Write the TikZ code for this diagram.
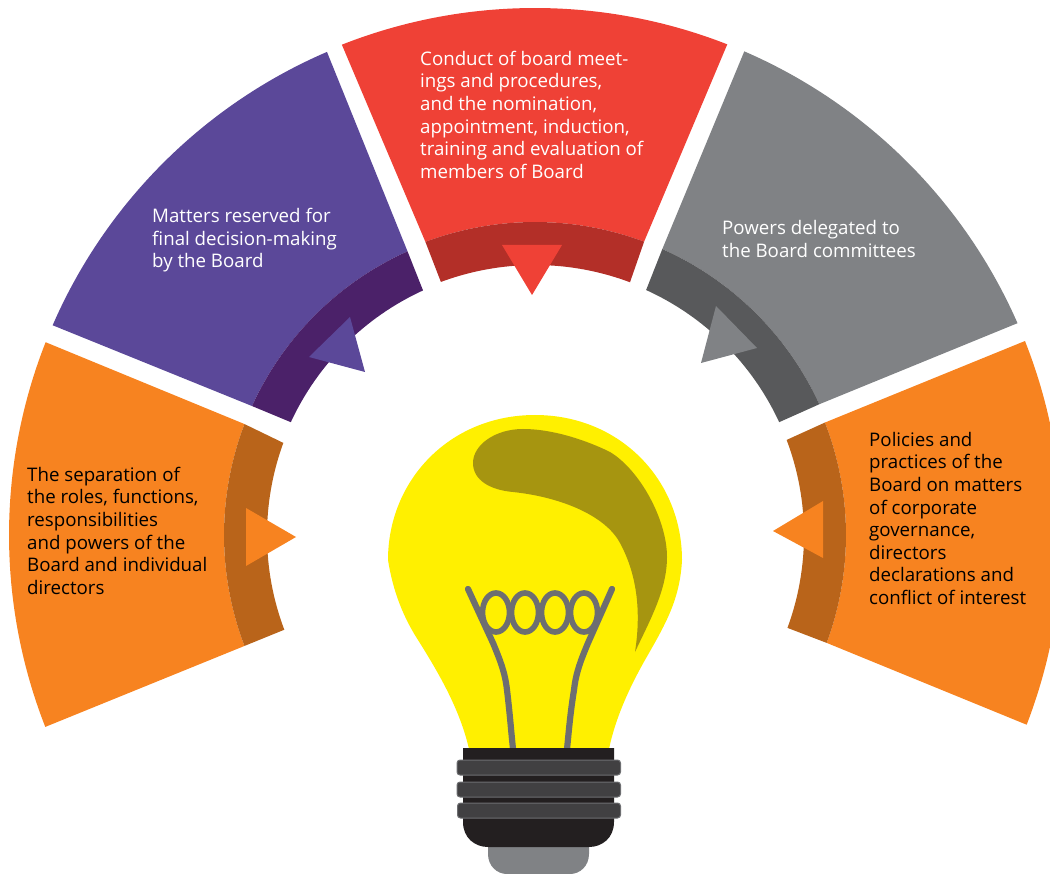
\documentclass[tikz,border=0pt]{standalone}
\usepackage{fontspec}
\setmainfont{Open Sans}
\definecolor{org}{HTML}{F78320}
\definecolor{orgd}{HTML}{B9641A}
\definecolor{pur}{HTML}{5B4899}
\definecolor{purd}{HTML}{4B2169}
\definecolor{redl}{HTML}{EF4136}
\definecolor{redd}{HTML}{B32F28}
\definecolor{gryl}{HTML}{808285}
\definecolor{gryd}{HTML}{58595B}
\definecolor{bulb}{HTML}{FFF000}
\definecolor{oliv}{HTML}{A69510}
\definecolor{wire}{HTML}{6D6E71}
\definecolor{sock}{HTML}{231F20}
\definecolor{ring}{HTML}{414042}
% fill; outer a1,a2,r1; inner a3,a4,r2
\newcommand\sectorband[7]{\fill[#1] (#2:#4pt) arc[start angle=#2,end angle=#3,radius=#4pt] -- (#6:#7pt) arc[start angle=#6,end angle=#5,radius=#7pt] -- cycle;}
\tikzset{
  lab/.style={anchor=north west,inner sep=0pt,align=left,font=\fontsize{18.7}{22.6}\selectfont},
  wirepath/.style={draw=wire,line width=6.2pt,line cap=round,line join=round},
  coil/.style={draw=wire,line width=5.6pt},
  ringbar/.style={fill=ring,draw=wire,line width=1pt,rounded corners=3pt}
}
\begin{document}
\begin{tikzpicture}[x=1pt,y=-1pt]
\useasboundingbox (0,0) rectangle (1050,874);
\clip (0,0) rectangle (1050,874);
\begin{scope}[shift={(535,535)},y=1pt]
 % left orange
 \sectorband{org}{158.5}{201.4}{526}{159.1}{200.9}{311}
 \sectorband{orgd}{159.1}{200.9}{311}{159.9}{200.7}{268}
 % purple
 \sectorband{pur}{156.5}{113.3}{526}{155.5}{114.2}{311}
 \sectorband{purd}{155.5}{114.2}{311}{155.2}{114.6}{269}
 % red
 \sectorband{redl}{111.5}{68.6}{527}{110.5}{69.6}{313}
 \sectorband{redd}{110.5}{69.6}{313}{110.4}{69.4}{270}
 % gray
 \sectorband{gryl}{66.6}{23.7}{527}{66}{24.7}{313}
 \sectorband{gryd}{66}{24.7}{313}{65.6}{24.8}{269}
 % right orange
 \sectorband{org}{21.6}{-21.1}{527}{21.2}{-20.3}{311}
 \sectorband{orgd}{21.2}{-20.3}{311}{20.7}{-20.2}{269}
\end{scope}
% triangles
\fill[org] (246,508) -- (246,566) -- (296,537) -- cycle;
\fill[org] (823,501) -- (823,558) -- (773,531) -- cycle;
\fill[redl] (502,245) -- (562,245) -- (532,295) -- cycle;
\fill[pur] (350,317) -- (309,357) -- (365,372) -- cycle;
\fill[gryl] (716,306) -- (701,363) -- (757,348) -- cycle;
% bulb
\fill[bulb] (469,749) .. controls (460,710) and (440,675) .. (418,640) .. controls (400,612) and (392,585) .. (388,560) .. controls (388,480) and (450,415) .. (535,415) .. controls (620,415) and (682,480) .. (682,560) .. controls (680,600) and (665,625) .. (645,660) .. controls (628,690) and (615,720) .. (609,749) -- cycle;
\fill[oliv] (473,463) .. controls (473,445) and (495,429) .. (523,429) .. controls (555,429) and (590,442) .. (610,452) .. controls (640,470) and (667,520) .. (667,557) .. controls (667,590) and (650,620) .. (635,652) .. controls (640,620) and (640,580) .. (620,543) .. controls (605,515) and (560,497) .. (513,492) .. controls (490,490) and (473,480) .. (473,463) -- cycle;
% filament
\draw[wirepath] (468,589) -- (493,643) .. controls (500,660) and (505,672) .. (507,690) .. controls (510,715) and (511,730) .. (513,749);
\draw[wirepath] (612,589) -- (588,643) .. controls (581,660) and (576,672) .. (574,690) .. controls (570,715) and (569,730) .. (567,749);
\foreach \cx in {496,525,555,584}{\draw[coil] (\cx,612.5) ellipse [x radius=13.5pt,y radius=19.5pt];}
% socket
\fill[gryl] (488,840) -- (589,840) -- (589,854) .. controls (589,866) and (580,874) .. (570,874) -- (507,874) .. controls (497,874) and (488,866) .. (488,854) -- cycle;
\fill[sock] (463,748) -- (614,748) -- (614,822) .. controls (614,838) and (602,847) .. (589,847) -- (488,847) .. controls (475,847) and (463,838) .. (463,822) -- cycle;
\path[ringbar] (457,760) rectangle (620.5,775);
\path[ringbar] (457,782) rectangle (620.5,797);
\path[ringbar] (457.5,803) rectangle (620.5,818);
% labels
\node[lab,text=black] (t1) at (27,466.8) {The separation of\\the roles, functions,\\responsibilities\\and powers of the\\Board and individual\\directors};
\node[lab,text=white] (t2) at (152,208) {Matters reserved for\\final decision-making\\by the Board};
\node[lab,text=white] (t3) at (420,50.8) {Conduct of board meet-\\ings and procedures,\\and the nomination,\\appointment, induction,\\training and evaluation of\\members of Board};
\node[lab,text=white] (t4) at (722,220) {Powers delegated to\\the Board committees};
\node[lab,text=black] (t5) at (869,431.8) {Policies and\\practices of the\\Board on matters\\of corporate\\governance,\\directors\\declarations and\\conflict of interest};
\end{tikzpicture}
\end{document}
